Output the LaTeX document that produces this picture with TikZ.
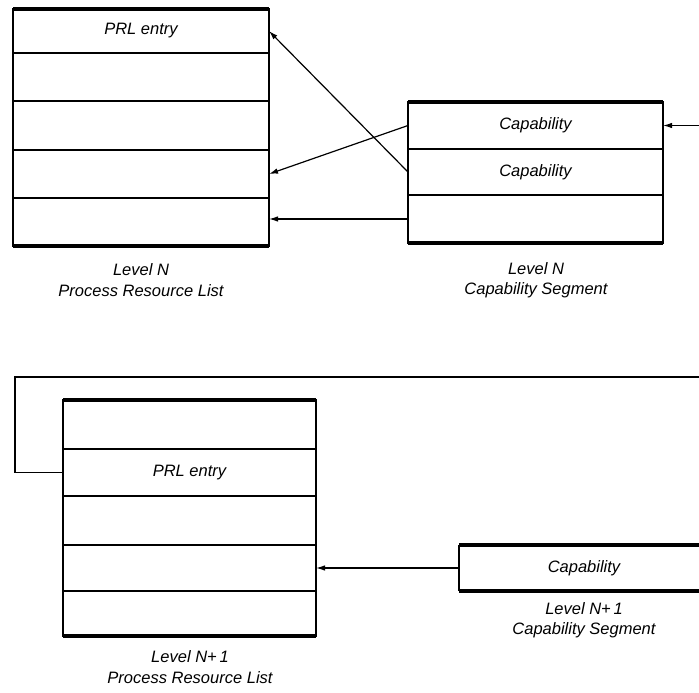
\documentclass[tikz,border=0pt]{standalone}
\usepackage{fontspec}
\setmainfont{Liberation Sans}
\usetikzlibrary{arrows.meta}
\begin{document}
\begin{tikzpicture}[x=1pt,y=-1pt,
  cell/.style={draw, line width=1.2pt, anchor=north west, inner sep=0pt, outer sep=0pt,
    font=\itshape\fontsize{16.5}{20}\selectfont},
  bar/.style={line width=4pt},
  wire/.style={line width=1.2pt},
  ptr/.style={wire, -{Latex[length=9pt,width=5.5pt]}},
  caption/.style={align=center, inner sep=0pt, font=\itshape\fontsize{16.5}{20.5}\selectfont}]
\useasboundingbox (0,0) rectangle (699,693);
\clip (0,0) rectangle (699,693);

% Level N process resource list
\node[cell, minimum width=256pt, minimum height=44pt] (a1) at (13,9) {PRL entry};
\node[cell, minimum width=256pt, minimum height=48pt] (a2) at (13,53) {};
\node[cell, minimum width=256pt, minimum height=49pt] (a3) at (13,101) {};
\node[cell, minimum width=256pt, minimum height=48pt] (a4) at (13,150) {};
\node[cell, minimum width=256pt, minimum height=48pt] (a5) at (13,198) {};
\draw[bar] (a1.north west) -- (a1.north east);
\draw[bar] (a5.south west) -- (a5.south east);

% Level N capability segment
\node[cell, minimum width=255pt, minimum height=47pt] (k1) at (408,102) {Capability};
\node[cell, minimum width=255pt, minimum height=46pt] (k2) at (408,149) {Capability};
\node[cell, minimum width=255pt, minimum height=48pt] (k3) at (408,195) {};
\draw[bar] (k1.north west) -- (k1.north east);
\draw[bar] (k3.south west) -- (k3.south east);

% Level N+1 process resource list
\node[cell, minimum width=253pt, minimum height=49pt] (m1) at (63,400) {};
\node[cell, minimum width=253pt, minimum height=47pt] (m2) at (63,449) {PRL entry};
\node[cell, minimum width=253pt, minimum height=49pt] (m3) at (63,496) {};
\node[cell, minimum width=253pt, minimum height=46pt] (m4) at (63,545) {};
\node[cell, minimum width=253pt, minimum height=45pt] (m5) at (63,591) {};
\draw[bar] (m1.north west) -- (m1.north east);
\draw[bar] (m5.south west) -- (m5.south east);

% Level N+1 capability segment (runs on past the right edge)
\node[cell, draw=none, minimum width=250pt, minimum height=46pt] (n1) at (459,545) {Capability};
\draw[bar] (n1.north west) -- (n1.north east);
\draw[wire] (n1.north west) -- (n1.south west);
\draw[bar] (n1.south west) -- (n1.south east);

% captions
\node[caption] (capA) at (141,280) {Level N\\Process Resource List};
\node[caption] (capB) at (536,280) {Level N\\Capability Segment};
\node[caption] (capC) at (584,620) {Level N+\,1\\Capability Segment};
\node[caption] (capD) at (190,667) {Level N+\,1\\Process Resource List};

% pointers
\path (k1.east) ++(36,0) coordinate (inN);
\draw[ptr] (inN) -- (k1.east);
\draw[ptr] (k1.west) -- (a4.east);
\draw[ptr] (k2.west) -- (a1.east);
\draw[ptr] (k3.west) -- (k3.west -| a5.east);

\coordinate (up) at (699,377);
\coordinate (turn) at (15,377);
\draw[wire] (up) -- (turn) |- (m2.west);
\draw[ptr] (n1.west) -- (m4.east);
\end{tikzpicture}
\end{document}
